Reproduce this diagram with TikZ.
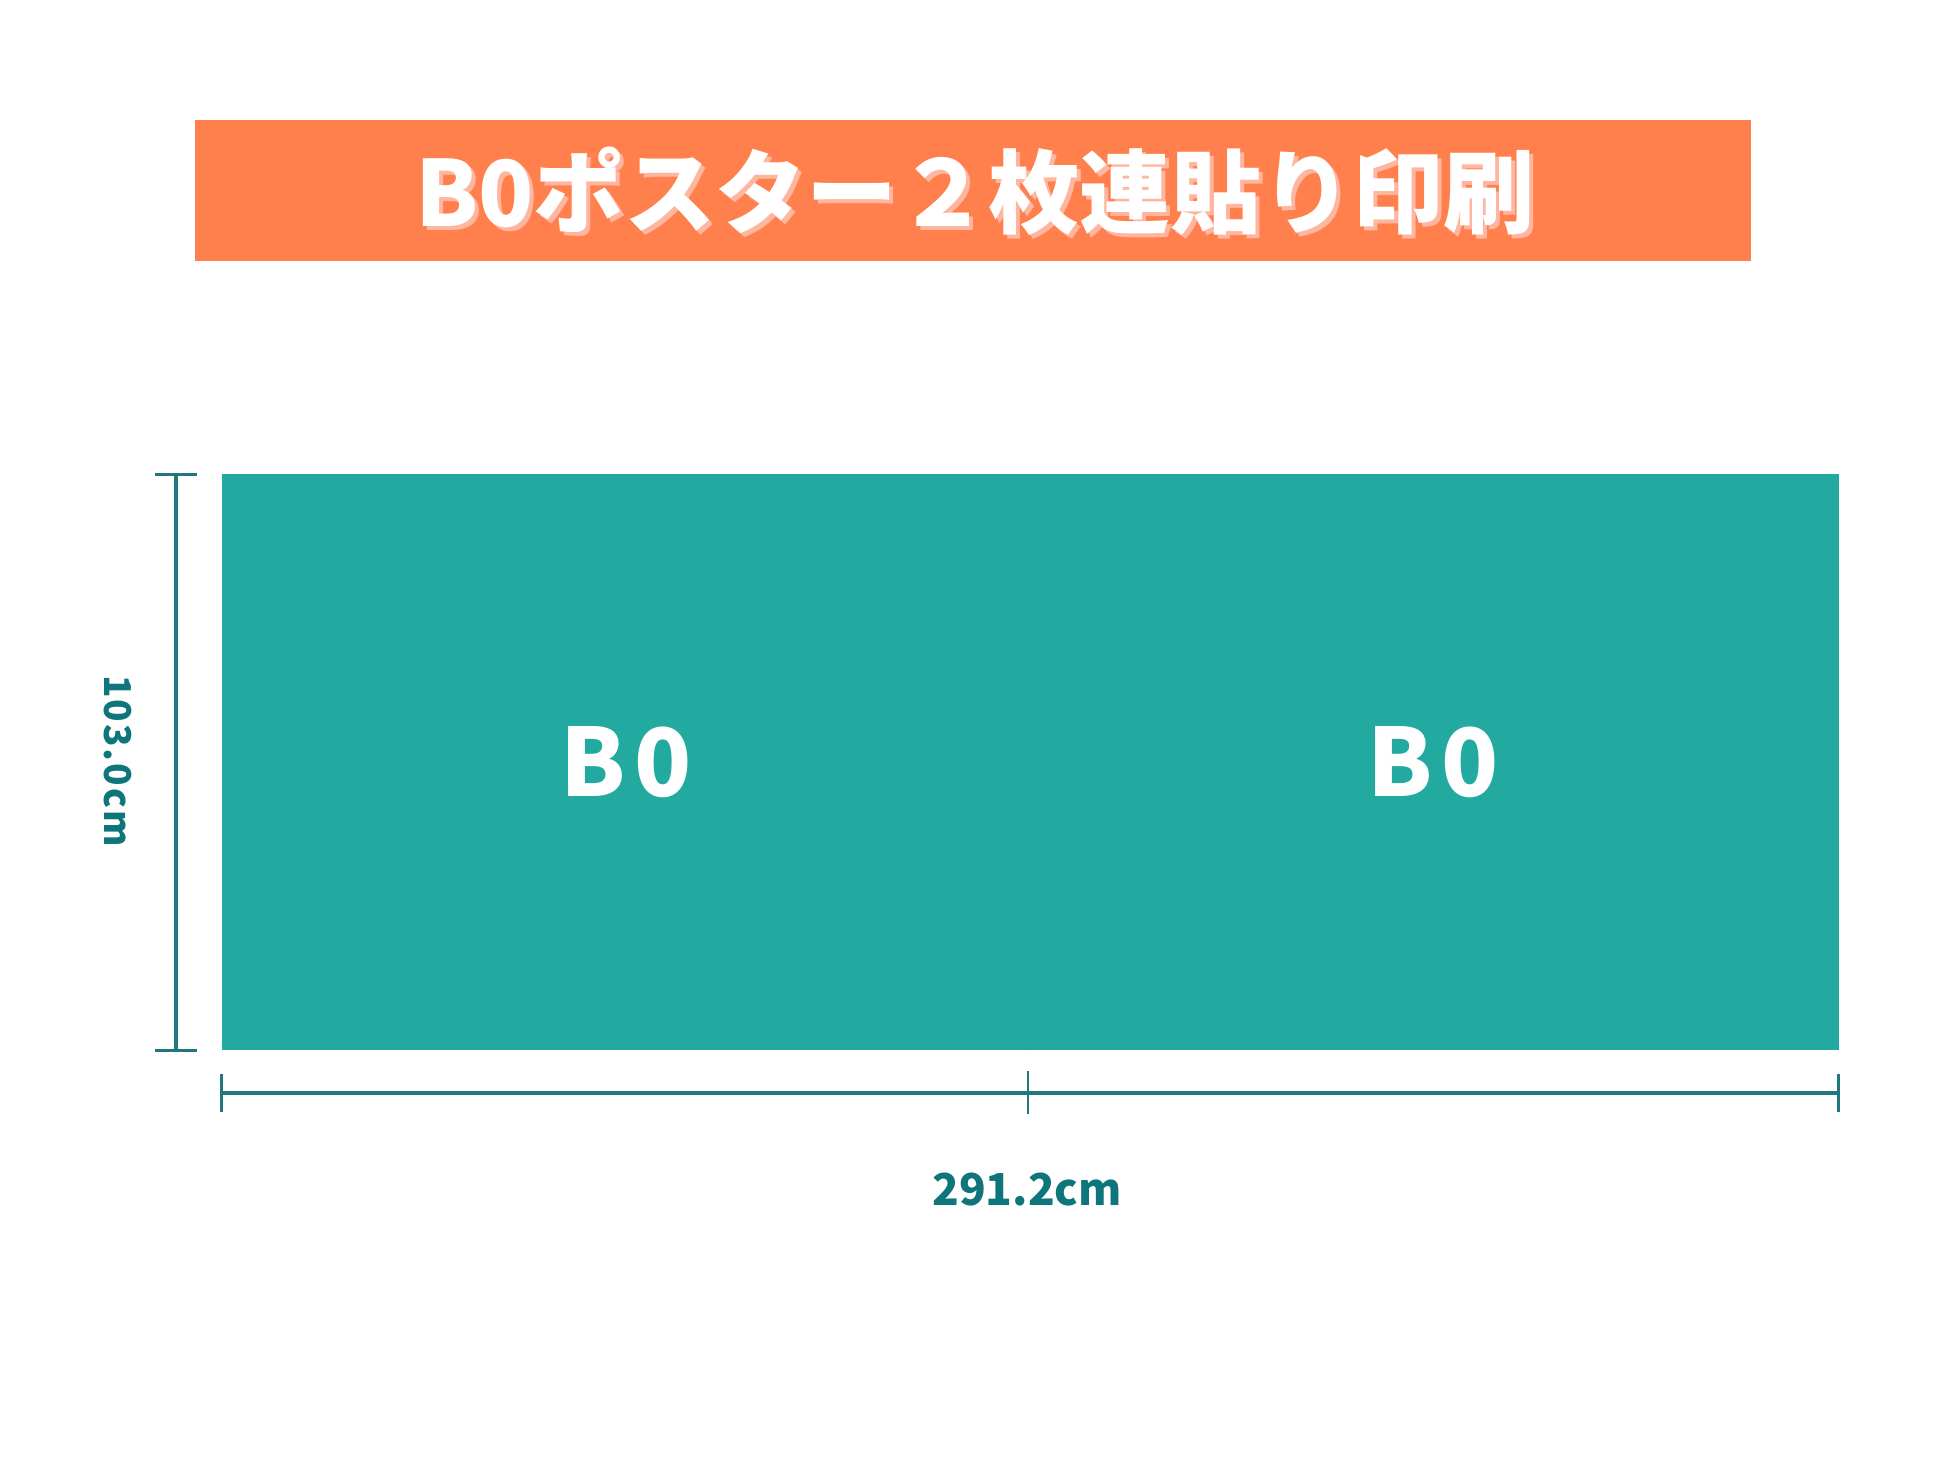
\documentclass[tikz,border=0pt]{standalone}
\usepackage{fontspec}
\newfontfamily\cjk{Noto Sans CJK JP}
\definecolor{barorange}{RGB}{255,128,76}
\definecolor{shadowpink}{RGB}{255,182,160}
\definecolor{paperteal}{RGB}{35,170,160}
\definecolor{dimteal}{RGB}{34,118,126}
\definecolor{labelteal}{RGB}{14,118,122}
\tikzset{
  sheet/.style={fill=paperteal, draw=none, minimum height=576pt, inner sep=0pt, text=white, font=\cjk\bfseries\fontsize{94}{94}\selectfont},
  dimline/.style={draw=dimteal, line width=3.2pt},
  dimtick/.style={draw=dimteal, line width=3pt},
  titletext/.style={font=\cjk\bfseries\fontsize{91}{91}\selectfont, inner sep=0pt}
}
\begin{document}
\begin{tikzpicture}[x=1pt,y=-1pt]
\useasboundingbox[fill=white] (0,0) rectangle (1946,1460);
% title bar
\node[fill=barorange, minimum width=1556pt, minimum height=141pt, inner sep=0pt] (bar) at (973,190.5) {};
\node[titletext, text=shadowpink] (tshadow) at (979,195) {B0ポスター２枚連貼り印刷};
\node[titletext, text=white] (title) at (975,191) {B0ポスター２枚連貼り印刷};
% sheets
\node[sheet, minimum width=808pt] (left) at (626,762) {B\hspace{9pt}0};
\node[sheet, minimum width=811pt] (right) at (1433.5,762) {B\hspace{9pt}0};
\draw[draw=paperteal!92!black, line width=0.8pt, opacity=0.3] (left.north east) -- (left.south east);
% vertical dimension
\coordinate (vt) at (176,474);
\coordinate (vb) at (176,1050);
\draw[dimline] (vt) -- (vb);
\draw[dimtick] ([xshift=-21pt]vt) -- ([xshift=21pt]vt);
\draw[dimtick] ([xshift=-21pt]vb) -- ([xshift=21pt]vb);
\node[rotate=-90, text=labelteal, font=\cjk\bfseries\fontsize{37}{37}\selectfont, inner sep=0pt] (hlabel) at (118,761) {1\kern2pt0\kern2pt3\kern2pt.\kern2pt0\kern2pt c\kern2pt m};
% horizontal dimension
\coordinate (hl) at (221,1093);
\coordinate (hm) at (1028,1093);
\coordinate (hr) at (1838,1093);
\draw[dimline] (hl) -- (hr);
\draw[dimtick] ([yshift=-19pt]hl) -- ([yshift=19pt]hl);
\draw[dimtick, line width=1.6pt] ([yshift=-21pt]hm) -- ([yshift=22pt]hm);
\draw[dimtick] ([yshift=-19pt]hr) -- ([yshift=19pt]hr);
\node[text=labelteal, font=\cjk\bfseries\fontsize{44}{44}\selectfont, inner sep=0pt] (wlabel) at (1027,1190) {291.2cm};
\end{tikzpicture}
\end{document}
